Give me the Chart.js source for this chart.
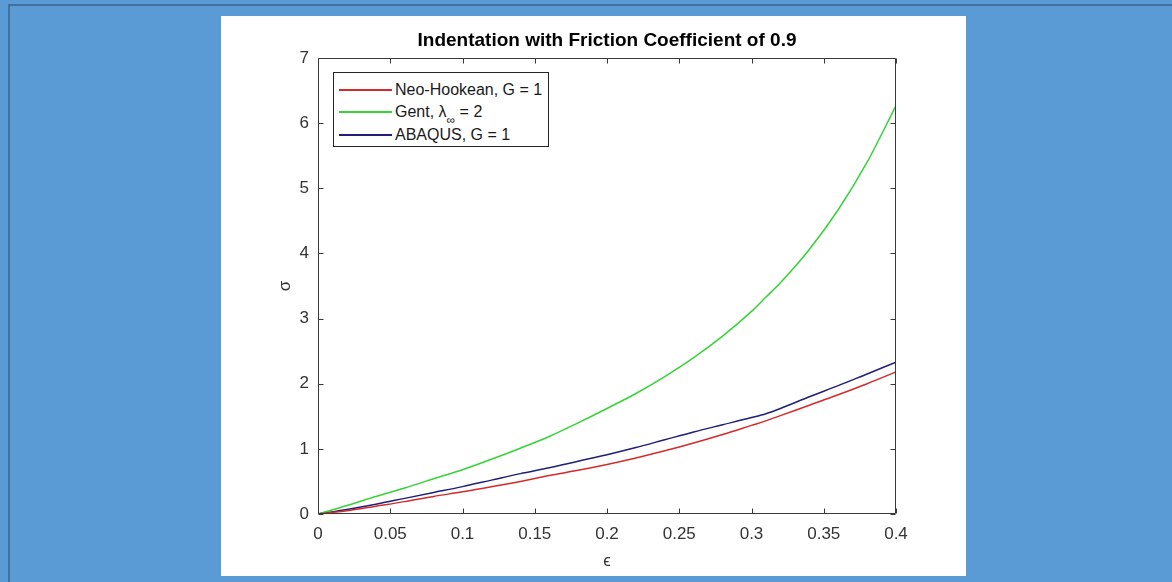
<!DOCTYPE html>
<html>
<head>
<meta charset="utf-8">
<title>Indentation with Friction Coefficient of 0.9</title>
<script src="https://cdn.jsdelivr.net/npm/chart.js@4.4.1/dist/chart.umd.min.js"></script>
<style>
    html, body { margin: 0; padding: 0; }
    body {
        width: 1172px;
        height: 582px;
        background: #5b9bd5;
        position: relative;
        overflow: hidden;
        font-family: "Liberation Sans", Arial, Helvetica, sans-serif;
    }
    .frame {
        position: absolute;
        left: 8px; top: 4px; right: -4px; bottom: -4px;
        border-left: 2px solid #41719c;
        border-top: 2px solid #41719c;
    }
    #panel {
        position: absolute;
        left: 221px; top: 16px;
        width: 745px; height: 560px;
        background: #fff;
    }
    #panel canvas { position: absolute; left: 0; top: 0; }
    #legend {
        position: absolute;
        width: 214px; height: 73px;
        border: 1px solid #262626;
        background: #fff;
        font-size: 16px;
        color: #1a1a1a;
    }
    #legend .row { position: absolute; left: 0; height: 20px; line-height: 20px; white-space: nowrap; }
    #legend .swatch { position: absolute; left: 5px; top: 9px; width: 53px; height: 1.5px; }
    #legend .txt { position: absolute; left: 61px; top: 0; }
    #legend sub { font-size: 12px; vertical-align: -7px; line-height: 0; }
</style>
</head>
<body>
<div class="frame"></div>
<div id="panel">
    <canvas id="indentChart" width="745" height="560"></canvas>
    <div id="legend"></div>
</div>

<script>
// valores (deformación vs tensión)
const strain = [0, 0.02, 0.04, 0.06, 0.08, 0.10, 0.12, 0.14, 0.16, 0.18, 0.20,
                0.22, 0.24, 0.26, 0.28, 0.30, 0.31, 0.32, 0.34, 0.36, 0.38, 0.40];
const neoHookean = [0, 0.05, 0.12, 0.19, 0.27, 0.34, 0.42, 0.50, 0.59, 0.67, 0.76,
                    0.86, 0.97, 1.09, 1.22, 1.36, 1.43, 1.51, 1.67, 1.83, 2.00, 2.18];
const gent = [0, 0.13, 0.27, 0.40, 0.54, 0.68, 0.84, 1.01, 1.19, 1.40, 1.62,
              1.85, 2.11, 2.40, 2.73, 3.11, 3.33, 3.55, 4.06, 4.67, 5.40, 6.27];
const abaqus = [0, 0.07, 0.15, 0.24, 0.33, 0.42, 0.52, 0.62, 0.71, 0.81, 0.91,
                1.02, 1.14, 1.26, 1.37, 1.48, 1.54, 1.62, 1.80, 1.97, 2.15, 2.33];

const seriesLabels = ['Neo-Hookean, G = 1', 'Gent, λ∞ = 2', 'ABAQUS, G = 1'];
const legendLabels = ['Neo-Hookean, G = 1', 'Gent, &lambda;<sub>&infin;</sub> = 2', 'ABAQUS, G = 1'];
const seriesColors = ['#d42a2a', '#36d336', '#1f1f7a'];

const xTicks = { min: 0, max: 0.4, step: 0.05 };
const yTicks = { min: 0, max: 7, step: 1 };

const FONT = '"Liberation Sans", Arial, Helvetica, sans-serif';
const AXIS_COLOR = '#3a3a3a';

const IndentChart = {
    init: function() {
        this.chart = this.setupChart();
        this.setupLegend(this.chart);
    },

    toPoints: function(values) {
        return strain.map((x, i) => ({ x: x, y: values[i] }));
    },

    setupChart: function() {
        const el = document.getElementById('indentChart');
        const series = [neoHookean, gent, abaqus];

        // caja tipo MATLAB: marco completo y ticks hacia dentro en los 4 lados
        const boxPlugin = {
            id: 'matlabBox',
            afterDatasetsDraw: function(chart) {
                const { ctx, chartArea: a, scales } = chart;
                const L = Math.round(a.left) + 0.5, R = Math.round(a.right) - 0.5;
                const T = Math.round(a.top) + 0.5, B = Math.round(a.bottom) - 0.5;
                const len = 5;
                ctx.save();
                ctx.strokeStyle = AXIS_COLOR;
                ctx.lineWidth = 1;
                ctx.beginPath();
                ctx.rect(L, T, R - L, B - T);
                scales.x.ticks.forEach(t => {
                    const px = Math.round(scales.x.getPixelForValue(t.value)) + 0.5;
                    ctx.moveTo(px, B); ctx.lineTo(px, B - len);
                    ctx.moveTo(px, T); ctx.lineTo(px, T + len);
                });
                scales.y.ticks.forEach(t => {
                    const py = Math.round(scales.y.getPixelForValue(t.value)) + 0.5;
                    ctx.moveTo(L, py); ctx.lineTo(L + len, py);
                    ctx.moveTo(R, py); ctx.lineTo(R - len, py);
                });
                ctx.stroke();
                ctx.restore();
            }
        };

        return new Chart(el, {
            type: 'line',
            data: {
                datasets: series.map((vals, i) => ({
                    label: seriesLabels[i],
                    data: this.toPoints(vals),
                    borderColor: seriesColors[i],
                    backgroundColor: seriesColors[i],
                    borderWidth: 1.5,
                    pointRadius: 0,
                    fill: false,
                    cubicInterpolationMode: 'monotone'
                }))
            },
            options: {
                responsive: false,
                devicePixelRatio: 1,
                animation: false,
                layout: { padding: { left: 0, right: 70, top: 0, bottom: 0 } },
                plugins: {
                    legend: { display: false },
                    tooltip: { enabled: false },
                    title: {
                        display: true,
                        fullSize: false, // centrado sobre el área del gráfico
                        text: 'Indentation with Friction Coefficient of 0.9',
                        color: '#000',
                        font: { family: FONT, size: 19, weight: 'bold', lineHeight: 1.2 },
                        padding: { top: 13, bottom: 6.2 }
                    }
                },
                scales: {
                    x: {
                        type: 'linear',
                        min: xTicks.min,
                        max: xTicks.max,
                        grid: { display: false, drawTicks: false },
                        border: { display: false },
                        ticks: {
                            stepSize: xTicks.step,
                            padding: 10,
                            color: '#333',
                            font: { family: FONT, size: 17 },
                            maxRotation: 0,
                            callback: (v) => String(parseFloat(v.toFixed(2)))
                        },
                        title: {
                            display: true,
                            text: 'ϵ',
                            color: '#333',
                            font: { family: FONT, size: 17, lineHeight: 1.2 },
                            padding: { top: 0, bottom: 4 }
                        },
                        afterFit: (scale) => { scale.height = 62; }
                    },
                    y: {
                        type: 'linear',
                        min: yTicks.min,
                        max: yTicks.max,
                        grid: { display: false, drawTicks: false },
                        border: { display: false },
                        ticks: {
                            stepSize: yTicks.step,
                            padding: 9,
                            color: '#333',
                            font: { family: FONT, size: 17 }
                        },
                        title: {
                            display: true,
                            text: 'σ',
                            color: '#333',
                            font: { family: FONT, size: 17, lineHeight: 1.2 },
                            padding: { top: 54, bottom: 0 }
                        },
                        afterFit: (scale) => { scale.width = 97; }
                    }
                }
            },
            plugins: [boxPlugin]
        });
    },

    setupLegend: function(chart) {
        const box = document.getElementById('legend');
        const area = chart.chartArea;
        box.style.left = (area.left + 15) + 'px';
        box.style.top = (area.top + 14) + 'px';

        const rowTops = [7, 29, 52];
        chart.data.datasets.forEach((ds, i) => {
            const row = document.createElement('div');
            row.className = 'row';
            row.style.top = rowTops[i] + 'px';
            row.innerHTML = '<span class="swatch" style="background:' + ds.borderColor + '"></span>' +
                            '<span class="txt">' + legendLabels[i] + '</span>';
            box.appendChild(row);
        });
    }
};

IndentChart.init();
</script>
</body>
</html>
